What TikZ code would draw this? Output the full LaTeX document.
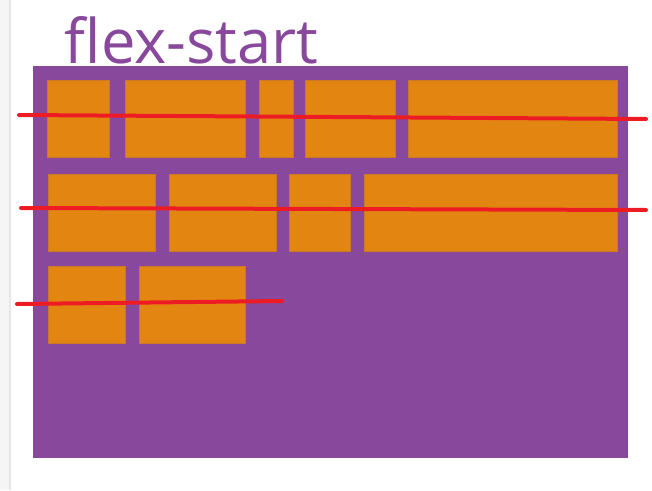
\documentclass[tikz,border=0pt]{standalone}
\usepackage{fontspec}
\setmainfont{Open Sans}
\usepackage{tikz}
\usetikzlibrary{positioning, calc}
\definecolor{flex-purple}{HTML}{88499C}
\definecolor{item-orange}{HTML}{E38611}
\definecolor{item-edge}{HTML}{C9782A}
\definecolor{mark-red}{HTML}{ED1C24}
\definecolor{side-gray}{HTML}{F5F5F5}
\definecolor{side-line}{HTML}{E6E6E6}
\tikzset{
  flex-box/.style={fill=flex-purple, draw=none},
  flex-item/.style={
    fill=item-orange, draw=item-edge, line width=0.4pt,
    minimum height=1.54cm, inner sep=0pt, outer sep=0pt
  },
  row-mark/.style={draw=mark-red, line width=0.08cm, line cap=round},
  title-text/.style={
    text=flex-purple, inner sep=0pt, anchor=base west,
    font=\fontsize{35}{40}\selectfont
  }
}

\begin{document}
\begin{tikzpicture}[x=0.02cm, y=-0.02cm]
  % Canvas and page strip
  \useasboundingbox (0,0) rectangle (652,490);
  \fill[side-gray] (0,0) rectangle (10,490);
  \draw[side-line, line width=0.6pt] (10,0) -- (10,490);

  % Container
  \node[title-text] (title) at (64.5,63) {flex-start};
  \fill[flex-box] (33,66) rectangle (628,458);

  % First line of items
  \node[flex-item, minimum width=1.24cm] (r1a) at (78,118.5) {};
  \node[flex-item, minimum width=2.40cm] (r1b) at (185,118.5) {};
  \node[flex-item, minimum width=0.68cm] (r1c) at (276,118.5) {};
  \node[flex-item, minimum width=1.80cm] (r1d) at (350,118.5) {};
  \node[flex-item, minimum width=4.18cm] (r1e) at (512.5,118.5) {};

  % Second line of items
  \node[flex-item, minimum width=2.13cm] (r2a) at (101.75,212.5) {};
  \node[flex-item, minimum width=2.14cm] (r2b) at (222.5,212.5) {};
  \node[flex-item, minimum width=1.22cm] (r2c) at (319.5,212.5) {};
  \node[flex-item, minimum width=5.06cm] (r2d) at (490.5,212.5) {};

  % Third line of items
  \node[flex-item, minimum width=1.53cm] (r3a) at (86.75,304.5) {};
  \node[flex-item, minimum width=2.12cm] (r3b) at (192,304.5) {};

  % Hand-drawn line markers
  \coordinate (m1-start) at (19,115);
  \coordinate (m1-end) at (646,119);
  \coordinate (m2-start) at (21,208);
  \coordinate (m2-end) at (646,210);
  \coordinate (m3-start) at (17,304);
  \coordinate (m3-end) at (282,301);
  \draw[row-mark] (m1-start) -- (m1-end);
  \draw[row-mark] (m2-start) -- (m2-end);
  \draw[row-mark] (m3-start) -- (m3-end);
\end{tikzpicture}
\end{document}
